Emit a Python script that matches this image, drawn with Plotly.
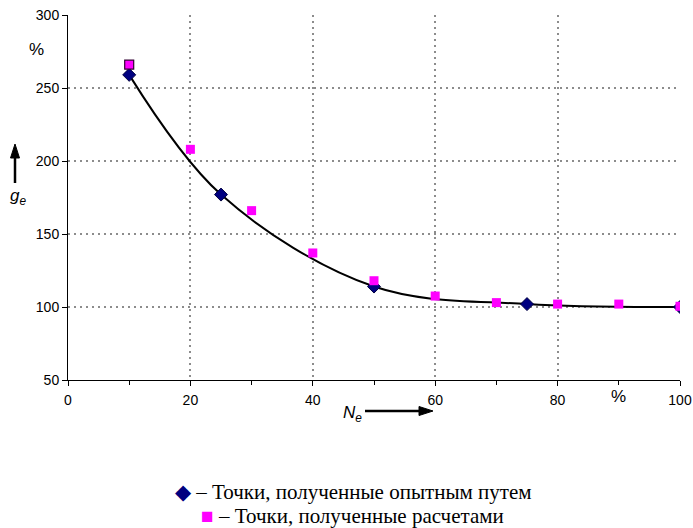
import plotly.graph_objects as go

# experimental points (diamonds)
exp_x = [10, 25, 50, 75, 100]
exp_y = [259, 177, 114, 102, 100]
# calculated points (squares)
calc_x = [10, 20, 30, 40, 50, 60, 70, 80, 90, 100]
calc_y = [266, 208, 166, 137, 118, 107.5, 103, 102, 102, 100.5]

x_ticks = [0, 20, 40, 60, 80, 100]
y_ticks = [50, 100, 150, 200, 250, 300]

W, H = 693, 528
L, R, T, B = 68, 13, 15, 148
pw, ph = W - L - R, H - T - B

def px(x):
    return (x - L) / pw

def py(y):
    return 1 - (y - T) / ph

fig = go.Figure()
fig.add_trace(go.Scatter(x=exp_x, y=exp_y, mode="lines",
                         line=dict(color="black", width=2, shape="spline", smoothing=1.0),
                         hoverinfo="skip", showlegend=False))
fig.add_trace(go.Scatter(x=exp_x, y=exp_y, mode="markers",
                         marker=dict(symbol="diamond", size=10, color="#000080",
                                     line=dict(color="#000040", width=1)),
                         name="Точки, полученные опытным путем", showlegend=False))
fig.add_trace(go.Scatter(x=calc_x, y=calc_y, mode="markers",
                         marker=dict(symbol="square", size=9, color="#FF00FF",
                                     line=dict(color="#330033",
                                               width=[1.2] + [0] * (len(calc_x) - 1))),
                         name="Точки, полученные расчетами", showlegend=False))

tickfont = dict(family="Liberation Sans, Arial, sans-serif", size=14, color="black")
grid = dict(showgrid=True, gridcolor="#8c8c8c", griddash="2px,4px", gridwidth=2)
fig.update_xaxes(range=[0, 100], tickvals=x_ticks, ticks="outside", ticklen=5,
                 tickcolor="black", showline=True, linecolor="black", linewidth=1,
                 zeroline=False, tickfont=tickfont, automargin=False, ticklabelstandoff=2,
                 minor=dict(tickvals=[10, 30, 50, 70, 90], ticks="outside", ticklen=4,
                            tickcolor="black", showgrid=False), **grid)
fig.update_yaxes(range=[50, 300], tickvals=y_ticks, ticks="outside", ticklen=5,
                 tickcolor="black", showline=True, linecolor="black", linewidth=1,
                 zeroline=False, tickfont=tickfont, automargin=False, **grid)

lab = dict(family="Liberation Sans, Arial, sans-serif", size=17, color="black")
C = dict(xanchor="center", yanchor="middle", showarrow=False)
ann = []
ann.append(dict(x=90, y=py(396), xref="x", yref="paper", text="%", font=lab, **C))
ann.append(dict(x=px(36), y=py(50), xref="paper", yref="paper", text="%", font=lab, **C))
ann.append(dict(x=px(18), y=py(197), xref="paper", yref="paper",
                text="<i>g</i><sub><i>e</i></sub>", font=lab, **C))
ann.append(dict(x=px(352), y=py(414), xref="paper", yref="paper",
                text="<i>N</i><sub><i>e</i></sub>", font=lab, **C))
legfont = dict(family="Liberation Serif, Times New Roman, serif", size=21, color="black")
ann.append(dict(x=px(353), y=py(492), xref="paper", yref="paper",
                text='<span style="color:#000080">◆</span> – Точки, полученные опытным путем',
                font=legfont, **C))
ann.append(dict(x=px(352), y=py(516), xref="paper", yref="paper",
                text='<span style="color:#FF00FF">■</span> – Точки, полученные расчетами',
                font=legfont, **C))

shapes = []
shapes.append(dict(type="line", xref="paper", yref="paper",
                   x0=px(15), x1=px(15), y0=py(183), y1=py(156),
                   line=dict(color="black", width=2.5)))
shapes.append(dict(type="path", xref="paper", yref="paper", fillcolor="black",
                   line=dict(color="black", width=1),
                   path=f"M {px(15)} {py(144)} L {px(10.5)} {py(158)} L {px(19.5)} {py(158)} Z"))
shapes.append(dict(type="line", xref="paper", yref="paper",
                   x0=px(365), x1=px(420), y0=py(411), y1=py(411),
                   line=dict(color="black", width=2.5)))
shapes.append(dict(type="path", xref="paper", yref="paper", fillcolor="black",
                   line=dict(color="black", width=1),
                   path=f"M {px(433)} {py(411)} L {px(419)} {py(406.5)} L {px(419)} {py(415.5)} Z"))

fig.update_layout(width=W, height=H, margin=dict(l=L, r=R, t=T, b=B, autoexpand=False),
                  paper_bgcolor="white", plot_bgcolor="white",
                  annotations=ann, shapes=shapes, showlegend=False)

fig.write_html("out.html", config={"displayModeBar": False},
               post_script="document.body.style.margin='0';")
